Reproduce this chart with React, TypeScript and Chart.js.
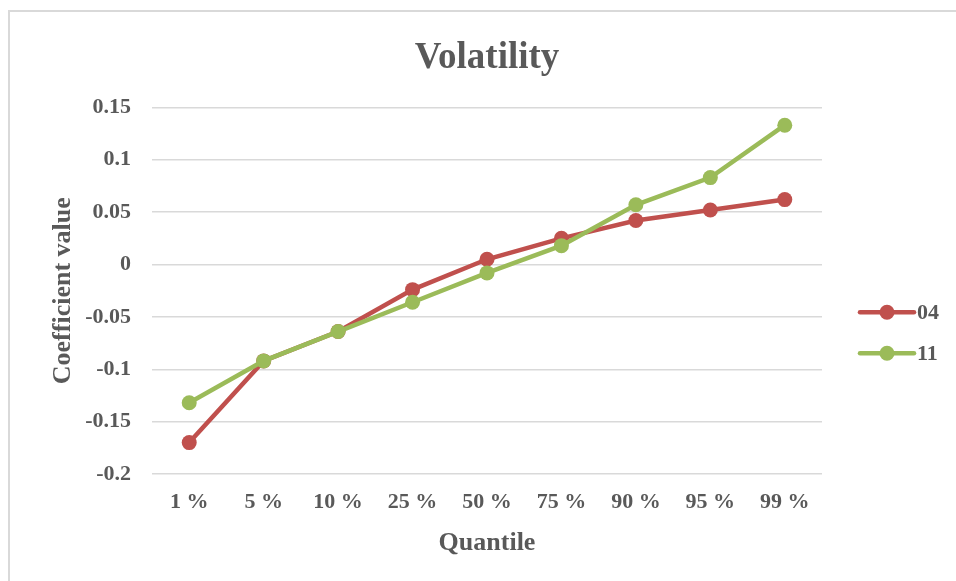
import React, { useEffect, useRef } from "react";
import { Chart, registerables } from "chart.js";

Chart.register(...registerables);

// Quantile regression coefficients for the volatility term
const quantiles = ["1 %", "5 %", "10 %", "25 %", "50 %", "75 %", "90 %", "95 %", "99 %"];
const seriesNames = ["04", "11"];
const values04 = [-0.17, -0.092, -0.064, -0.024, 0.005, 0.025, 0.042, 0.052, 0.062];
const values11 = [-0.132, -0.092, -0.064, -0.036, -0.008, 0.018, 0.057, 0.083, 0.133];
const yMin = -0.2;
const yMax = 0.15;
const yStep = 0.05;

const RED = "#C0504D";
const GREEN = "#9BBB59";
const TEXT = "#595959";
const GRID = "#D9D9D9";
const FONT = "'Liberation Serif', 'Times New Roman', serif";

// Legend drawn to the right of the plot: line segment with a marker, then the label
const sideLegend = {
  id: "sideLegend",
  afterDraw(chart: any) {
    const { ctx, chartArea } = chart;
    const midY = (chartArea.top + chartArea.bottom) / 2 + 42;
    const x0 = chartArea.right + 38;
    const x1 = x0 + 54;
    const gap = 41;
    const ordered = [...chart.data.datasets].sort(
      (a: any, b: any) => seriesNames.indexOf(a.label) - seriesNames.indexOf(b.label)
    );
    ctx.save();
    ordered.forEach((ds: any, i: number) => {
      const y = midY + (i - (ordered.length - 1) / 2) * gap;
      ctx.strokeStyle = ds.borderColor;
      ctx.lineWidth = ds.borderWidth;
      ctx.lineCap = "round";
      ctx.beginPath();
      ctx.moveTo(x0, y);
      ctx.lineTo(x1, y);
      ctx.stroke();
      ctx.fillStyle = ds.pointBackgroundColor;
      ctx.beginPath();
      ctx.arc((x0 + x1) / 2, y, ds.pointRadius, 0, Math.PI * 2);
      ctx.fill();
      ctx.fillStyle = TEXT;
      ctx.font = `bold 22px ${FONT}`;
      ctx.textAlign = "left";
      ctx.textBaseline = "middle";
      ctx.fillText(ds.label, x1 + 3, y + 1);
    });
    ctx.restore();
  },
};

export default function App() {
  const canvasRef = useRef<HTMLCanvasElement | null>(null);

  useEffect(() => {
    const canvas = canvasRef.current;
    if (!canvas) return;
    const chart = new Chart(canvas, {
      type: "line",
      data: {
        labels: quantiles,
        datasets: [
          {
            label: seriesNames[0],
            data: values04,
            borderColor: RED,
            backgroundColor: RED,
            pointBackgroundColor: RED,
            pointBorderColor: RED,
            borderWidth: 4.5,
            pointRadius: 7.5,
            pointBorderWidth: 0,
            tension: 0,
            order: 1,
          },
          {
            label: seriesNames[1],
            data: values11,
            borderColor: GREEN,
            backgroundColor: GREEN,
            pointBackgroundColor: GREEN,
            pointBorderColor: GREEN,
            borderWidth: 4.5,
            pointRadius: 7.5,
            pointBorderWidth: 0,
            tension: 0,
            order: 0,
          },
        ],
      },
      options: {
        responsive: false,
        animation: false,
        layout: { padding: { left: 40, right: 134, top: 20, bottom: 20 } },
        plugins: {
          legend: { display: false },
          tooltip: { enabled: false },
          title: {
            display: true,
            fullSize: false,
            text: "Volatility",
            color: TEXT,
            font: { family: FONT, size: 37, weight: "bold", lineHeight: 1.2 },
            padding: { top: 16, bottom: 27 },
          },
        },
        scales: {
          x: {
            offset: true,
            grid: { display: false, drawTicks: false },
            border: { display: false },
            ticks: {
              color: TEXT,
              padding: 15,
              maxRotation: 0,
              autoSkip: false,
              font: { family: FONT, size: 22, weight: "bold", lineHeight: 1.2 },
            },
            title: {
              display: true,
              text: "Quantile",
              color: TEXT,
              font: { family: FONT, size: 26, weight: "bold", lineHeight: 1.2 },
              padding: { top: 0, bottom: 2 },
            },
            afterFit(scale: any) {
              scale.height = 87;
            },
          },
          y: {
            min: yMin,
            max: yMax,
            grid: { color: GRID, lineWidth: 1.5, drawTicks: false },
            border: { display: false },
            ticks: {
              stepSize: yStep,
              color: TEXT,
              padding: 21,
              font: { family: FONT, size: 22, weight: "bold", lineHeight: 1.2 },
              callback: (v: any) => String(Number(Number(v).toFixed(2))),
            },
            title: {
              display: true,
              text: "Coefficient value",
              color: TEXT,
              font: { family: FONT, size: 26, weight: "bold", lineHeight: 1.2 },
              padding: { top: 8, bottom: 0 },
            },
            afterFit(scale: any) {
              scale.width = 112;
            },
          },
        },
      },
      plugins: [sideLegend],
    });
    return () => chart.destroy();
  }, []);

  return (
    <div
      style={{
        position: "fixed",
        left: 0,
        top: 0,
        width: 956,
        height: 581,
        overflow: "hidden",
        background: "#ffffff",
      }}
    >
      <canvas
        ref={canvasRef}
        width={956}
        height={581}
        style={{ position: "absolute", left: 0, top: 0, width: 956, height: 581 }}
      />
      <div
        style={{
          position: "absolute",
          left: 8,
          top: 10,
          width: 1100,
          height: 700,
          border: `2px solid ${GRID}`,
          pointerEvents: "none",
        }}
      />
    </div>
  );
}
